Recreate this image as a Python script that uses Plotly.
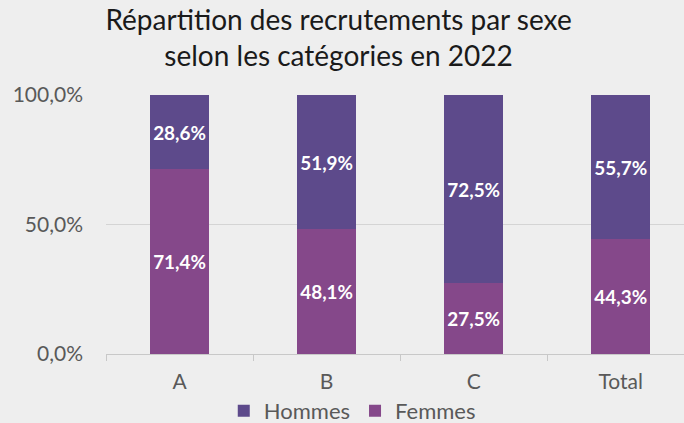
import plotly.graph_objects as go

categories = ["A", "B", "C", "Total"]
hommes = [28.6, 51.9, 72.5, 55.7]
femmes = [71.4, 48.1, 27.5, 44.3]
y_ticks = [0, 50, 100]
y_tick_labels = ["0,0%", "50,0%", "100,0%"]

def fmt(v):
    return f"{v:.1f}".replace(".", ",") + "%"

FONT = "Lato, Open Sans, sans-serif"
col_h = "#5d4a8b"
col_f = "#85488a"

fig = go.Figure()
fig.add_trace(go.Bar(
    x=categories, y=femmes, name="Femmes", marker_color=col_f,
    marker_line_width=0,
    text=[fmt(v) for v in femmes], textposition="inside", insidetextanchor="middle",
    textfont=dict(family=FONT, size=21, color="white", weight="bold"),
    textangle=0,
))
fig.add_trace(go.Bar(
    x=categories, y=hommes, name="Hommes", marker_color=col_h,
    marker_line_width=0,
    text=[fmt(v) for v in hommes], textposition="inside", insidetextanchor="middle",
    textfont=dict(family=FONT, size=21, color="white", weight="bold"),
    textangle=0,
))

fig.update_layout(
    barmode="stack",
    bargap=0.6,
    width=684, height=423,
    margin=dict(l=106, r=0, t=95, b=69, autoexpand=False),
    paper_bgcolor="#eeeeee",
    plot_bgcolor="#eeeeee",
    title=dict(
        text="Répartition des recrutements par sexe<br>selon les catégories en 2022",
        x=0.495, xanchor="center", xref="container",
        y=1 - 30 / 423, yanchor="middle", yref="container",
        font=dict(family=FONT, size=28, color="#1a1a1a"),
    ),
    uniformtext=dict(minsize=10, mode="show"),
    legend=dict(
        orientation="h", x=0.515, xanchor="center", xref="container",
        y=(423 - 411) / 423, yanchor="middle", yref="container",
        traceorder="reversed",
        font=dict(family=FONT, size=22, color="#595959"),
    ),
    showlegend=True,
)
fig.update_xaxes(
    range=[-0.5, 3.43],
    tickson="boundaries", ticks="outside", ticklen=6, tickcolor="#c8c8c8",
    showline=True, linecolor="#c8c8c8", linewidth=1,
    tickfont=dict(family=FONT, size=21, color="#595959"),
    showgrid=False, ticklabelstandoff=9, automargin=False,
)
fig.update_yaxes(
    range=[0, 100],
    tickvals=y_ticks, ticktext=y_tick_labels,
    tickfont=dict(family=FONT, size=21, color="#595959"),
    showgrid=True, gridcolor="#d4d4d4", gridwidth=1,
    zeroline=False, ticks="", ticklabelstandoff=22, automargin=False,
)
fig.write_html("out.html", config={"displayModeBar": False},
               post_script="document.body.style.margin='0';")
